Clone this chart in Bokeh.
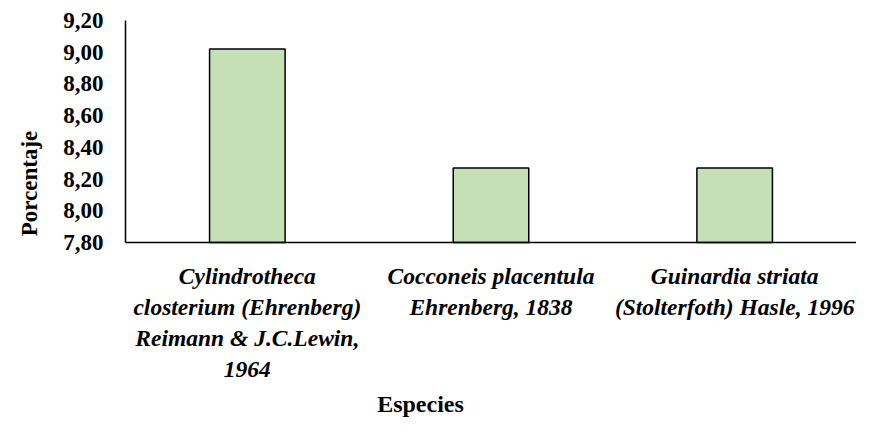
import math
from bokeh.plotting import figure
from bokeh.models import FixedTicker, CustomJSTickFormatter, Range1d
from bokeh.core.properties import value
from bokeh.embed import file_html
from bokeh.resources import INLINE

species = [
    "Cylindrotheca\nclosterium (Ehrenberg)\nReimann & J.C.Lewin,\n1964",
    "Cocconeis placentula\nEhrenberg, 1838",
    "Guinardia striata\n(Stolterfoth) Hasle, 1996",
]
porcentaje = [9.02, 8.27, 8.27]
y_ticks = [7.80, 8.00, 8.20, 8.40, 8.60, 8.80, 9.00, 9.20]
y_tick_labels = ["7,80", "8,00", "8,20", "8,40", "8,60", "8,80", "9,00", "9,20"]
y_title = "Porcentaje"
x_title = "Especies"

FONT = "Times New Roman"

# layout (pixels)
W, H = 856, 417
LEFT, TOP, BOTTOM = 125, 20, 242
n = len(species)
slot = (W - LEFT) / n
ppu = (BOTTOM - TOP) / (y_ticks[-1] - y_ticks[0])
x_axis_pos = -0.5
x_range = Range1d(x_axis_pos - LEFT / slot, n - 0.5)
y_range = Range1d(y_ticks[0] - (H - BOTTOM) / ppu, y_ticks[-1] + TOP / ppu)

p = figure(x_range=x_range, y_range=y_range, width=W, height=H,
           output_backend="svg", toolbar_location=None,
           min_border=0, min_border_left=0, min_border_right=0,
           min_border_top=0, min_border_bottom=0)
p.outline_line_color = None
p.xgrid.grid_line_color = None
p.ygrid.grid_line_color = None

idx = list(range(n))
p.vbar(x=idx, top=porcentaje, bottom=y_ticks[0], width=0.31,
       fill_color="#C5E0B4", line_color="#000000", line_width=1.5)

# axes: the library's axes, pinned to the chart's origin, lines only
for ax in (p.xaxis[0], p.yaxis[0]):
    ax.formatter = CustomJSTickFormatter(code="return '';")
    ax.major_tick_line_color = None
    ax.minor_tick_line_color = None
    ax.major_tick_out = 0
    ax.major_tick_in = 0
    ax.major_label_standoff = 0
    ax.major_label_text_font_size = "0px"
    ax.axis_line_color = "#000000"
    ax.axis_line_width = 1.5
p.yaxis[0].ticker = FixedTicker(ticks=y_ticks)
p.yaxis[0].fixed_location = x_axis_pos
p.yaxis[0].bounds = (y_ticks[0], y_ticks[-1])
p.xaxis[0].ticker = FixedTicker(ticks=idx)
p.xaxis[0].fixed_location = y_ticks[0]
p.xaxis[0].bounds = (x_axis_pos, n - 0.5)

# y tick labels (one text glyph per label)
for yv, t in zip(y_ticks, y_tick_labels):
    p.text(x=[x_axis_pos], y=[yv], text=[t], x_offset=-22,
           text_align="right", text_baseline="middle",
           text_font=value(FONT), text_font_style="bold", text_font_size="23px",
           text_color="#000000")

# category labels (one text glyph per category)
for i, s in zip(idx, species):
    p.text(x=[i], y=[y_ticks[0]], text=[s], y_offset=20,
           text_align="center", text_baseline="top", text_line_height=1.2,
           text_font=value(FONT), text_font_style="bold italic", text_font_size="23.5px",
           text_color="#000000")

# axis titles
p.text(x=[x_axis_pos], y=[y_ticks[0]], text=[x_title], x_offset=295, y_offset=161,
       text_align="center", text_baseline="middle",
       text_font=value(FONT), text_font_style="bold", text_font_size="24px",
       text_color="#000000")
p.text(x=[x_axis_pos], y=[y_ticks[0]], text=[y_title], x_offset=-96, y_offset=-59,
       angle=math.pi / 2, text_align="center", text_baseline="middle",
       text_font=value(FONT), text_font_style="bold", text_font_size="23px",
       text_color="#000000")

open("out.html", "w").write(file_html(p, INLINE))
